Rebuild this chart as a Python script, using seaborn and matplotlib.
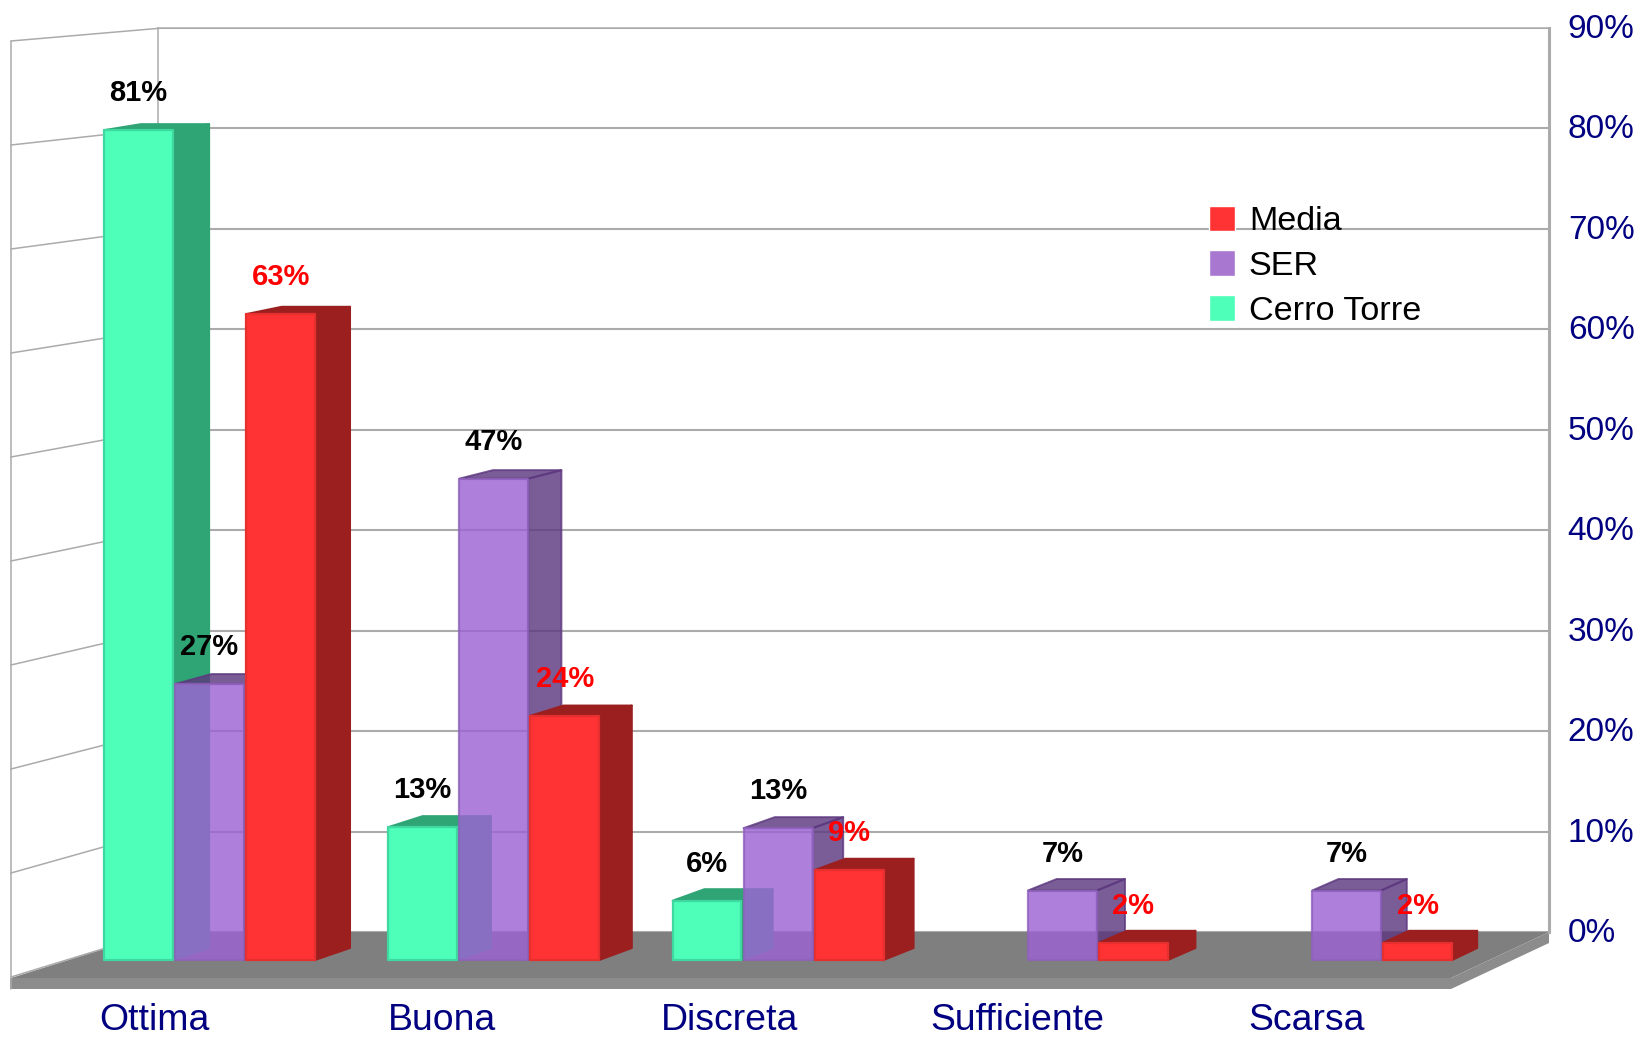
import matplotlib
matplotlib.use("Agg")
import matplotlib.pyplot as plt
from matplotlib.patches import Patch, Polygon
from matplotlib.transforms import ScaledTranslation
import numpy as np
import pandas as pd
import seaborn as sns

# Data
categories = ["Ottima", "Buona", "Discreta", "Sufficiente", "Scarsa"]
series_names = ["Cerro Torre", "SER", "Media"]
cerro_torre = [81.2, 13, 5.8, np.nan, np.nan]
ser = [27, 47.1, 12.9, 6.8, 6.8]
media = [63.2, 23.9, 8.8, 1.7, 1.7]
wall_ticks = [0, 10, 20, 30, 40, 50, 60, 70, 80, 90]

W, H = 1638, 1039

sns.set_style("white")
plt.rcParams["font.family"] = ["Liberation Sans", "DejaVu Sans"]

fig = plt.figure(figsize=(W / 100, H / 100), dpi=100)


def px_axes(left, top, right, bottom, z):
    a = fig.add_axes([left / W, 1 - bottom / H, (right - left) / W, (bottom - top) / H])
    a.set_zorder(z)
    a.patch.set_alpha(0)
    return a


# Floor and left wall, in plain pixel coordinates
bg = px_axes(0, 0, W, H, 0)
bg.set_xlim(0, W)
bg.set_ylim(H, 0)
bg.axis("off")
bg.add_patch(Polygon([(158, 932), (1549, 932), (1451, 978), (11, 978)], fc="#7f7f7f", ec="none"))
bg.add_patch(Polygon([(10, 978), (1451, 978), (1451, 989), (10, 989)], fc="#8c8c8c", ec="none"))
bg.add_patch(Polygon([(1451, 978), (1549, 932), (1549, 943), (1451, 989)], fc="#8c8c8c", ec="none"))
for v in wall_ticks:
    bg.plot([158, 11], [932 - v * 10.04, 977 - v * 10.4], color="#ababab", lw=1.1)
bg.plot([11, 11], [41, 989], color="#ababab", lw=1.1)

# Back wall with the value axis on the right
wall = px_axes(158, 28, 1549, 932, 1)
wall.set_xlim(0, 1)
wall.set_ylim(0, 90)
wall.set_xticks([])
wall.yaxis.tick_right()
wall.set_yticks(wall_ticks)
wall.set_yticklabels([f"{v}%" for v in wall_ticks])
wall.tick_params(axis="y", length=0, pad=13.5, labelsize=24, labelcolor="#000080")
lift = ScaledTranslation(0, 2 / 100, fig.dpi_scale_trans)
for lab in wall.get_yticklabels():
    lab.set_transform(lab.get_transform() + lift)
wall.grid(axis="y", color="#ababab", lw=1.5)
for side, spine in wall.spines.items():
    spine.set_color("#ababab")
    spine.set_linewidth(1.1)
wall.spines["bottom"].set_visible(False)
wall.spines["right"].set_linewidth(2.2)

# Front plane of the bars
x0, step = 209.5, 284.3
y0, per_unit = 960, 10.22
ax = px_axes(11, 28, 1549, 989, 2)

df = pd.DataFrame({
    "categoria": categories * 3,
    "serie": np.repeat(series_names, len(categories)),
    "valore": cerro_torre + ser + media,
})
front = ["#4dffb8", "#9c64d4", "#ff3333"]
sns.barplot(data=df, x="categoria", y="valore", hue="serie", order=categories,
            hue_order=series_names, palette=front, saturation=1, width=0.75, gap=0.03,
            errorbar=None, legend=False, ax=ax)
ax.set_xlim((11 - x0) / step, (1549 - x0) / step)
ax.set_ylim((y0 - 989) / per_unit, (y0 - 28) / per_unit)
ax.patch.set_alpha(0)
ax.set_xlabel("")
ax.set_ylabel("")
ax.set_yticks([])
sns.despine(ax=ax, left=True, bottom=True)

label_px = [154.6, 442, 730, 1017, 1307]
ax.set_xticks([(p - x0) / step for p in label_px])
ax.set_xticklabels(categories)
ax.tick_params(axis="x", length=0, pad=10, labelsize=26.9, labelcolor="#000080")

# Faces going back, taken from each seaborn bar
dark = ["#2fa475", "#5d387f", "#9c1f1f"]
edge = ["#3fd8a0", "#8f62bc", "#e63030"]
alpha = [1, 0.82, 1]
text_col = ["black", "black", "#ff0000"]
fig.canvas.draw()
to_disp = ax.transData.transform
to_data = ax.transData.inverted().transform


def back(x, y):
    # perspective shift of a display point towards the vanishing point
    y_px = H - y
    return x + 35 - (x - 315) * 0.0088, y + 6 + (y_px - 130) * 0.0072


for s, cont in enumerate(ax.containers):
    for bar in cont:
        h = bar.get_height()
        if not np.isfinite(h) or h == 0:
            continue
        bx, bw = bar.get_x(), bar.get_width()
        (l, b), (r, t) = to_disp([(bx, 0), (bx + bw, h)])
        side = [(r, t), back(r, t), back(r, b), (r, b)]
        top = [(l, t), back(l, t), back(r, t), (r, t)]
        for pts in (side, top):
            ax.add_patch(Polygon(to_data(pts), fc=dark[s], ec=dark[s], lw=1.4,
                                 alpha=alpha[s], joinstyle="round", zorder=1 + 2 * s))
        bar.set_zorder(2 + 2 * s)
        bar.set_alpha(alpha[s])
        bar.set_edgecolor(edge[s])
        bar.set_linewidth(1.6)
        bar.set_joinstyle("round")
        ax.annotate(f"{h:.0f}%", (bx + bw / 2, h), xytext=(0, 26.5), textcoords="offset points",
                    ha="center", va="center", fontsize=21, fontweight="bold",
                    color=text_col[s], zorder=20)

handles = [Patch(fc="#ff3333", label="Media"), Patch(fc="#a878d0", label="SER"),
           Patch(fc="#4dffb8", label="Cerro Torre")]
ax.legend(handles=handles, loc="upper left", bbox_to_anchor=(1202 / W, 1 - 199 / H),
          bbox_transform=fig.transFigure, frameon=False, fontsize=24.6, labelspacing=0.38,
          handlelength=0.77, handleheight=0.77, handletextpad=0.4, borderpad=0.2, borderaxespad=0,
          labelcolor="black")

fig.savefig("out.png", dpi=100)
